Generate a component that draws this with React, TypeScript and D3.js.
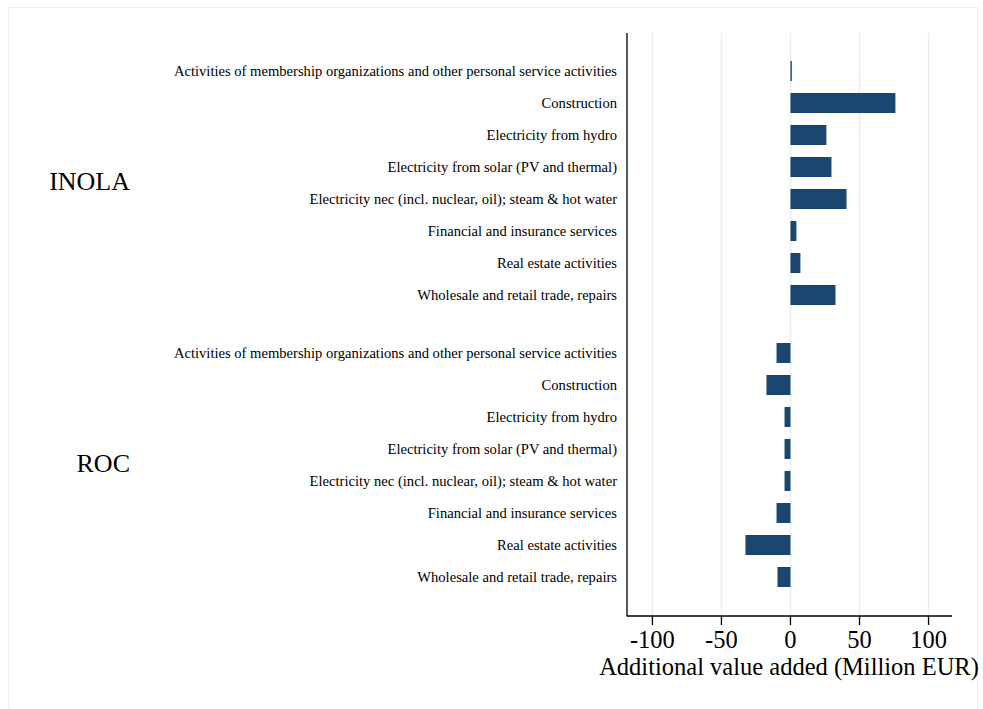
import React from "react";
import * as d3 from "d3";

const groups = ["INOLA", "ROC"];
const sectors = [
  "Activities of membership organizations and other personal service activities",
  "Construction",
  "Electricity from hydro",
  "Electricity from solar (PV and thermal)",
  "Electricity nec (incl. nuclear, oil); steam & hot water",
  "Financial and insurance services",
  "Real estate activities",
  "Wholesale and retail trade, repairs",
];
const inolaValues = [1, 76, 26, 29.7, 40.6, 4.3, 7.2, 32.6];
const rocValues = [-10.1, -17.4, -4.3, -4.3, -4.3, -10.1, -32.6, -9.4];
const xTicks = [-100, -50, 0, 50, 100];
const xTitle = "Additional value added (Million EUR)";

const W = 983;
const H = 709;
const FONT = "'Liberation Serif', 'Times New Roman', serif";
const BAR = "#1a476f";
const GRID = "#e6eef1";

export default function App() {
  const x = d3.scaleLinear().domain([-118.4, 117]).range([627, 952]);
  const plotTop = 33;
  const plotBottom = 616;
  const rowStep = 32;
  const groupStart = [71, 353];
  const values = [inolaValues, rocValues];
  const barH = 20;

  const rows = groups.flatMap((g, gi) =>
    sectors.map((s, si) => ({
      group: g,
      gi,
      label: s,
      value: values[gi][si],
      y: groupStart[gi] + si * rowStep,
    }))
  );

  return (
    <svg
      width={W}
      height={H}
      style={{ position: "absolute", left: 0, top: 0, background: "#fff" }}
      fontFamily={FONT}
    >
      <rect x={8.5} y={7.5} width={969} height={720} fill="none" stroke="#e8f0ee" strokeWidth={1} />
      {xTicks.map((t) => (
        <line key={"g" + t} x1={x(t)} x2={x(t)} y1={plotTop} y2={plotBottom} stroke={GRID} strokeWidth={1.5} />
      ))}
      {rows.map((r, i) => (
        <rect
          key={"b" + i}
          x={Math.min(x(0), x(r.value))}
          width={Math.abs(x(r.value) - x(0))}
          y={r.y - barH / 2}
          height={barH}
          fill={BAR}
        />
      ))}
      {rows.map((r, i) => (
        <text key={"l" + i} x={617} y={r.y} dy="0.33em" textAnchor="end" fontSize={14.6} fill="#000">
          {r.label}
        </text>
      ))}
      {groups.map((g, gi) => (
        <text
          key={g}
          x={130}
          y={groupStart[gi] + 3.5 * rowStep + 7}
          textAnchor="end"
          fontSize={26}
          fill="#000"
        >
          {g}
        </text>
      ))}
      <line x1={627} x2={627} y1={plotTop} y2={plotBottom + 0.5} stroke="#000" strokeWidth={1.3} />
      <line x1={627} x2={952} y1={plotBottom} y2={plotBottom} stroke="#000" strokeWidth={1.3} />
      {xTicks.map((t) => (
        <g key={"t" + t}>
          <line x1={x(t)} x2={x(t)} y1={plotBottom} y2={plotBottom + 9} stroke="#000" strokeWidth={1.3} />
          <text x={x(t)} y={648} textAnchor="middle" fontSize={24.5} fill="#000">
            {t}
          </text>
        </g>
      ))}
      <text x={789} y={675} textAnchor="middle" fontSize={24.5} fill="#000">
        {xTitle}
      </text>
    </svg>
  );
}
